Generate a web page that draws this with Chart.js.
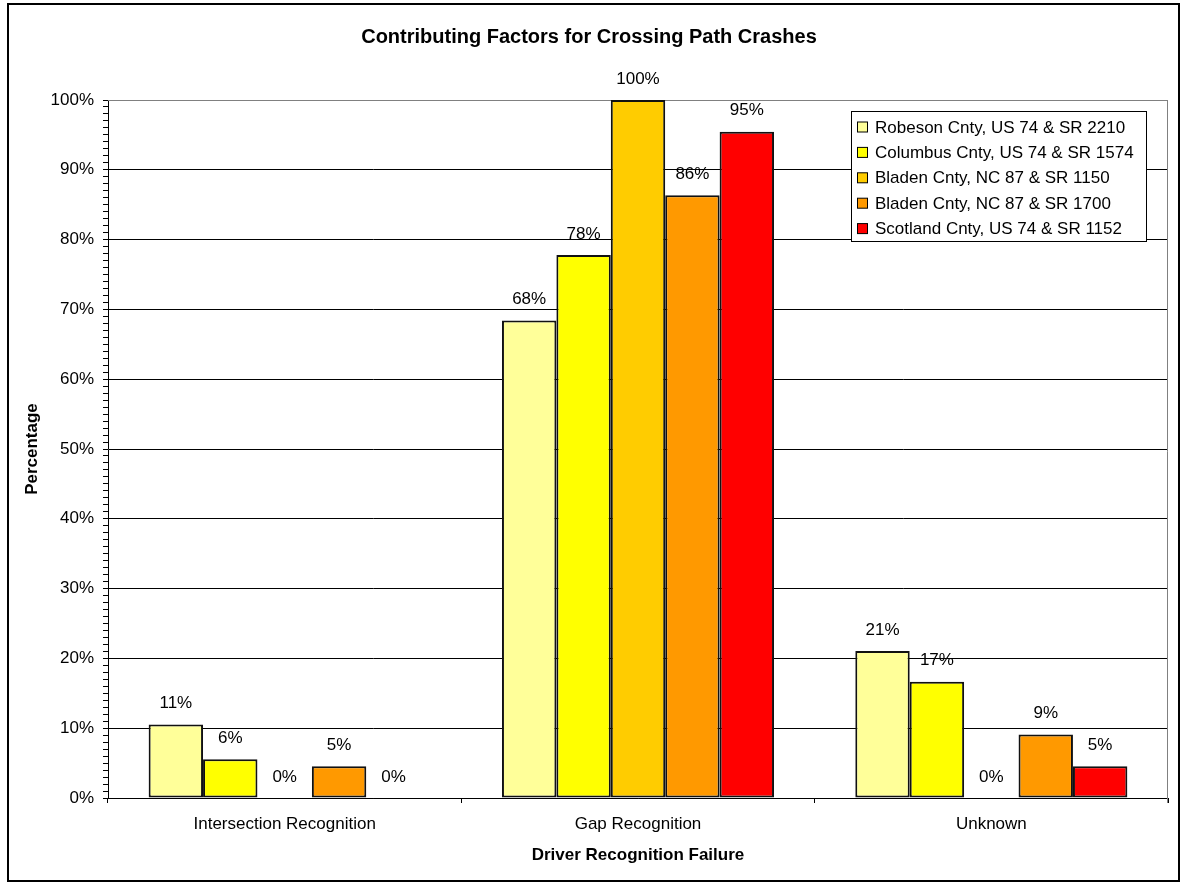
<!DOCTYPE html>
<html lang="en">
<head>
    <meta charset="UTF-8">
    <title>Contributing Factors for Crossing Path Crashes</title>
    <script src="https://cdn.jsdelivr.net/npm/chart.js"></script>
    <style>
        body { margin: 0; background: #fff; overflow: hidden; }
        #wrap { width: 1185px; height: 884px; position: relative; }
    </style>
</head>
<body>
<div id="wrap"><canvas id="crashChart"></canvas></div>

<script>
    // values (percent)
    const categories = ['Intersection Recognition', 'Gap Recognition', 'Unknown'];
    const robeson = [10.53, 68.42, 21.05];
    const columbus = [5.56, 77.78, 16.67];
    const bladen1150 = [0, 100, 0];
    const bladen1700 = [4.55, 86.36, 9.09];
    const scotland = [0, 95.45, 4.55];

    const seriesNames = [
        'Robeson Cnty, US 74 & SR 2210',
        'Columbus Cnty, US 74 & SR 1574',
        'Bladen Cnty, NC 87 & SR 1150',
        'Bladen Cnty, NC 87 & SR 1700',
        'Scotland Cnty, US 74 & SR 1152'
    ];
    const seriesColors = ['#FFFF99', '#FFFF00', '#FFCC00', '#FF9900', '#FF0000'];
    const seriesValues = [robeson, columbus, bladen1150, bladen1700, scotland];

    const FONT = '"Liberation Sans", Arial, sans-serif';

    // labels on top of the bars
    const barLabels = {
        id: 'barLabels',
        afterDatasetsDraw(chart) {
            const ctx = chart.ctx;
            ctx.save();
            ctx.font = '17px ' + FONT;
            ctx.fillStyle = '#000';
            ctx.textAlign = 'center';
            ctx.textBaseline = 'middle';
            chart.data.datasets.forEach((ds, i) => {
                chart.getDatasetMeta(i).data.forEach((bar, j) => {
                    ctx.fillText(Math.round(ds.data[j]) + '%', bar.x, bar.y - 21);
                });
            });
            ctx.restore();
        }
    };

    // gray plot area border, drawn under the bars
    const plotBorder = {
        id: 'plotBorder',
        beforeDatasetsDraw(chart) {
            const a = chart.chartArea;
            const ctx = chart.ctx;
            ctx.save();
            ctx.strokeStyle = '#808080';
            ctx.lineWidth = 1;
            ctx.beginPath();
            ctx.moveTo(a.left, a.top + 0.5);
            ctx.lineTo(a.right - 0.5, a.top + 0.5);
            ctx.lineTo(a.right - 0.5, a.bottom + 5);
            ctx.stroke();
            ctx.restore();
        }
    };

    // legend box inside the plot, and the outer frame
    const boxLegend = {
        id: 'boxLegend',
        afterDraw(chart) {
            const ctx = chart.ctx;
            ctx.save();
            const x = 851.5, y = 111.5, w = 295, h = 130;
            ctx.fillStyle = '#fff';
            ctx.fillRect(x, y, w, h);
            ctx.strokeStyle = '#000';
            ctx.lineWidth = 1;
            ctx.strokeRect(x, y, w, h);
            ctx.font = '17px ' + FONT;
            ctx.textBaseline = 'middle';
            ctx.textAlign = 'left';
            chart.data.datasets.forEach((ds, i) => {
                const cy = 127 + i * 25.4;
                ctx.fillStyle = ds.backgroundColor;
                ctx.fillRect(857.5, cy - 5, 10, 10);
                ctx.strokeRect(857.5, cy - 5, 10, 10);
                ctx.fillStyle = '#000';
                ctx.fillText(ds.label, 875, cy + 1);
            });

            ctx.lineWidth = 2;
            ctx.strokeRect(8, 4, 1171, 877);
            ctx.restore();
        }
    };

    const datasets = seriesValues.map((vals, i) => ({
        label: seriesNames[i],
        data: vals,
        backgroundColor: seriesColors[i],
        borderColor: '#111',
        borderWidth: 2,
        borderSkipped: false,
        barPercentage: 1.0,
        categoryPercentage: 0.77
    }));

    const ctx = document.getElementById('crashChart').getContext('2d');
    new Chart(ctx, {
        type: 'bar',
        data: {
            labels: categories,
            datasets: datasets
        },
        options: {
            responsive: true,
            maintainAspectRatio: false,
            animation: false,
            layout: { padding: { left: 10, right: 17, top: 0, bottom: 0 } },
            plugins: {
                legend: { display: false },
                tooltip: { enabled: false },
                title: {
                    display: true,
                    text: 'Contributing Factors for Crossing Path Crashes',
                    color: '#000',
                    font: { family: FONT, size: 20, weight: 'bold' },
                    padding: { top: 25, bottom: 51 }
                }
            },
            scales: {
                x: {
                    afterFit: s => { s.height = 86; },
                    grid: {
                        display: true,
                        drawOnChartArea: false,
                        offset: true,
                        tickLength: 5,
                        color: '#000'
                    },
                    border: { display: true, color: '#000', width: 1 },
                    ticks: {
                        color: '#000',
                        padding: 11,
                        font: { family: FONT, size: 17 }
                    },
                    title: {
                        display: true,
                        text: 'Driver Recognition Failure',
                        color: '#000',
                        font: { family: FONT, size: 17, weight: 'bold' },
                        padding: { top: 0, bottom: 18 }
                    }
                },
                y: {
                    min: 0,
                    max: 100,
                    afterFit: s => { s.width = 98; },
                    grid: {
                        color: c => (c.tick && c.tick.value % 10 === 0) ? (c.tick.value === 100 ? '#808080' : '#000') : 'rgba(0,0,0,0)',
                        tickColor: '#000',
                        tickLength: 5,
                        lineWidth: 1
                    },
                    border: { display: true, color: '#000', width: 1 },
                    ticks: {
                        stepSize: 1,
                        autoSkip: false,
                        color: '#000',
                        padding: 9,
                        font: { family: FONT, size: 17 },
                        callback: v => (v % 10 === 0 ? v + '%' : '')
                    },
                    title: {
                        display: true,
                        text: 'Percentage',
                        color: '#000',
                        font: { family: FONT, size: 17, weight: 'bold' },
                        padding: { top: 12, bottom: 0 }
                    }
                }
            }
        },
        plugins: [plotBorder, barLabels, boxLegend]
    });
</script>
</body>
</html>
